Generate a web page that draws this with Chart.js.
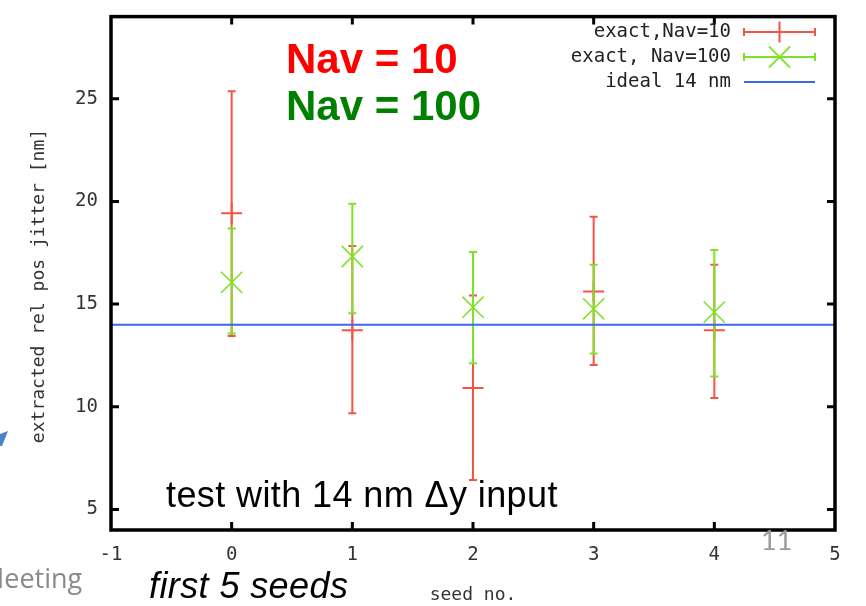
<!DOCTYPE html>
<html>
<head>
<meta charset="utf-8">
<script src="https://cdn.jsdelivr.net/npm/chart.js@4.4.0/dist/chart.umd.min.js"></script>
<style>
  html, body { margin: 0; padding: 0; background: #fff; }
</style>
</head>
<body>
<canvas id="jitter" width="866" height="606"></canvas>
<script>
// seed number on x, extracted jitter (nm) on y
const seeds = [0, 1, 2, 3, 4];
const nav10 = [19.42, 13.73, 10.91, 15.61, 13.73];
const nav10Lo = [13.45, 9.69, 6.44, 12.04, 10.43];
const nav10Hi = [25.36, 17.83, 15.42, 19.25, 16.92];
const nav100 = [16.06, 17.32, 14.85, 14.77, 14.61];
const nav100Lo = [13.57, 14.56, 12.12, 12.59, 11.48];
const nav100Hi = [18.68, 19.89, 17.54, 16.92, 17.64];
const idealJitter = 14;
const xRange = [-1, 5];
const yRange = [4, 29];
const xTicks = [-1, 0, 1, 2, 3, 4, 5];
const yTicks = [5, 10, 15, 20, 25];

const RED = 'rgb(245, 84, 68)';
const GREEN = 'rgb(128, 226, 40)';
const BLUE = 'rgb(62, 102, 236)';
const MONO = '"DejaVu Sans Mono", monospace';
const SANS = '"Liberation Sans", Arial, sans-serif';

const pts = (ys) => seeds.map((s, i) => ({ x: s, y: ys[i] }));

// vertical error bars with small caps, drawn under each dataset's markers
const errorBars = {
  id: 'errorBars',
  beforeDatasetDraw(chart, args) {
    const ds = chart.data.datasets[args.index];
    if (!ds.errLo) return;
    const { x, y } = chart.scales;
    const ctx = chart.ctx;
    ctx.save();
    ctx.strokeStyle = ds.borderColor;
    ctx.lineWidth = 2;
    ds.data.forEach((p, i) => {
      const px = x.getPixelForValue(p.x);
      const lo = y.getPixelForValue(ds.errLo[i]);
      const hi = y.getPixelForValue(ds.errHi[i]);
      ctx.beginPath();
      ctx.moveTo(px, lo); ctx.lineTo(px, hi);
      ctx.moveTo(px - 4, lo); ctx.lineTo(px + 4, lo);
      ctx.moveTo(px - 4, hi); ctx.lineTo(px + 4, hi);
      ctx.stroke();
    });
    ctx.restore();
  }
};

// gnuplot-like frame with inward, mirrored ticks, key and slide texts
const decorations = {
  id: 'decorations',
  afterDatasetsDraw(chart) {
    const ctx = chart.ctx;
    const { left, right, top, bottom } = chart.chartArea;
    const { x, y } = chart.scales;
    ctx.save();

    ctx.strokeStyle = '#000';
    ctx.lineWidth = 3.5;
    ctx.strokeRect(left, top, right - left, bottom - top);

    ctx.lineWidth = 3;
    ctx.beginPath();
    y.ticks.forEach(t => {
      const py = y.getPixelForValue(t.value);
      ctx.moveTo(left, py); ctx.lineTo(left + 8, py);
      ctx.moveTo(right, py); ctx.lineTo(right - 8, py);
    });
    x.ticks.forEach(t => {
      if (t.value <= xRange[0] || t.value >= xRange[1]) return;
      const px = x.getPixelForValue(t.value);
      ctx.moveTo(px, bottom); ctx.lineTo(px, bottom - 8);
      ctx.moveTo(px, top); ctx.lineTo(px, top + 8);
    });
    ctx.stroke();

    // key
    const rows = [32, 57, 82];
    const x0 = 744, x1 = 815, xm = (x0 + x1) / 2;
    ctx.font = '19px ' + MONO;
    ctx.textAlign = 'right';
    ctx.textBaseline = 'middle';
    chart.data.datasets.forEach(ds => {
      const ry = rows[ds.keyRow];
      ctx.fillStyle = '#222';
      ctx.fillText(ds.label, 731, ry);
      ctx.strokeStyle = ds.borderColor;
      ctx.lineWidth = 2;
      ctx.beginPath();
      ctx.moveTo(x0, ry); ctx.lineTo(x1, ry);
      if (ds.errLo) {
        ctx.moveTo(x0, ry - 4); ctx.lineTo(x0, ry + 4);
        ctx.moveTo(x1, ry - 4); ctx.lineTo(x1, ry + 4);
      }
      ctx.stroke();
      if (ds.errLo) {
        Chart.helpers.drawPoint(ctx, {
          pointStyle: ds.pointStyle, radius: ds.pointRadius,
          rotation: 0, borderWidth: ds.borderWidth
        }, xm, ry);
      }
    });

    // y axis title
    ctx.save();
    ctx.translate(39, 286);
    ctx.rotate(-Math.PI / 2);
    ctx.font = '18px ' + MONO;
    ctx.fillStyle = '#333';
    ctx.textAlign = 'center';
    ctx.textBaseline = 'middle';
    ctx.fillText('extracted rel pos jitter [nm]', 0, 0);
    ctx.restore();

    ctx.textAlign = 'left';
    ctx.textBaseline = 'alphabetic';
    ctx.font = 'bold 42px ' + SANS;
    ctx.fillStyle = '#ff0000';
    ctx.fillText('Nav = 10', 286, 73);
    ctx.fillStyle = '#008000';
    ctx.fillText('Nav = 100', 286, 120);

    ctx.fillStyle = '#000';
    ctx.font = '36px ' + SANS;
    ctx.letterSpacing = '0.4px';
    ctx.fillText('test with 14 nm \u0394y input', 166, 507);

    ctx.font = 'italic 36px ' + SANS;
    ctx.fillText('first 5 seeds', 149, 598);
    ctx.letterSpacing = '0px';

    ctx.fillStyle = '#9a9a9a';
    ctx.font = '27px Lato, sans-serif';
    ctx.fillText('11', 761, 550);

    ctx.fillStyle = '#8a8a8a';
    ctx.font = '27px "Open Sans", sans-serif';
    ctx.fillText('Meeting', -20, 588);

    // tip of the slide arrow
    ctx.fillStyle = '#4f81c8';
    ctx.beginPath();
    ctx.moveTo(0, 434); ctx.lineTo(8, 431); ctx.lineTo(2, 446); ctx.lineTo(0, 446);
    ctx.closePath();
    ctx.fill();

    ctx.restore();
  }
};

new Chart(document.getElementById('jitter'), {
  type: 'scatter',
  data: {
    datasets: [
      {
        label: 'exact,Nav=10',
        keyRow: 0,
        data: pts(nav10),
        errLo: nav10Lo,
        errHi: nav10Hi,
        borderColor: RED,
        backgroundColor: RED,
        pointStyle: 'cross',
        pointRadius: 10.5,
        borderWidth: 2,
        order: 3
      },
      {
        label: 'exact, Nav=100',
        keyRow: 1,
        data: pts(nav100),
        errLo: nav100Lo,
        errHi: nav100Hi,
        borderColor: GREEN,
        backgroundColor: GREEN,
        pointStyle: 'crossRot',
        pointRadius: 15,
        borderWidth: 1.6,
        order: 2
      },
      {
        type: 'line',
        label: 'ideal 14 nm',
        keyRow: 2,
        data: xRange.map(v => ({ x: v, y: idealJitter })),
        borderColor: BLUE,
        borderWidth: 2,
        pointRadius: 0,
        fill: false,
        order: 1
      }
    ]
  },
  options: {
    responsive: false,
    animation: false,
    devicePixelRatio: 1,
    layout: { padding: { top: 12, right: 31, left: 0, bottom: 0 } },
    plugins: { legend: { display: false }, tooltip: { enabled: false } },
    scales: {
      x: {
        type: 'linear',
        min: xRange[0],
        max: xRange[1],
        afterBuildTicks: s => { s.ticks = xTicks.map(v => ({ value: v })); },
        afterFit: s => { s.height = 76; s.paddingLeft = 0; s.paddingRight = 0; },
        grid: { display: false, drawTicks: false },
        border: { display: false },
        ticks: {
          font: { family: MONO, size: 19 },
          color: '#333',
          padding: 14,
          maxRotation: 0,
          autoSkip: false
        },
        title: {
          display: true,
          text: 'seed no.',
          font: { family: MONO, size: 18 },
          color: '#333',
          padding: 0
        }
      },
      y: {
        type: 'linear',
        min: yRange[0],
        max: yRange[1],
        afterBuildTicks: s => { s.ticks = yTicks.map(v => ({ value: v })); },
        afterFit: s => { s.width = 111; s.paddingTop = 0; s.paddingBottom = 0; },
        grid: { display: false, drawTicks: false },
        border: { display: false },
        ticks: {
          font: { family: MONO, size: 19 },
          color: '#333',
          padding: 13
        }
      }
    }
  },
  plugins: [errorBars, decorations]
});
</script>
</body>
</html>
